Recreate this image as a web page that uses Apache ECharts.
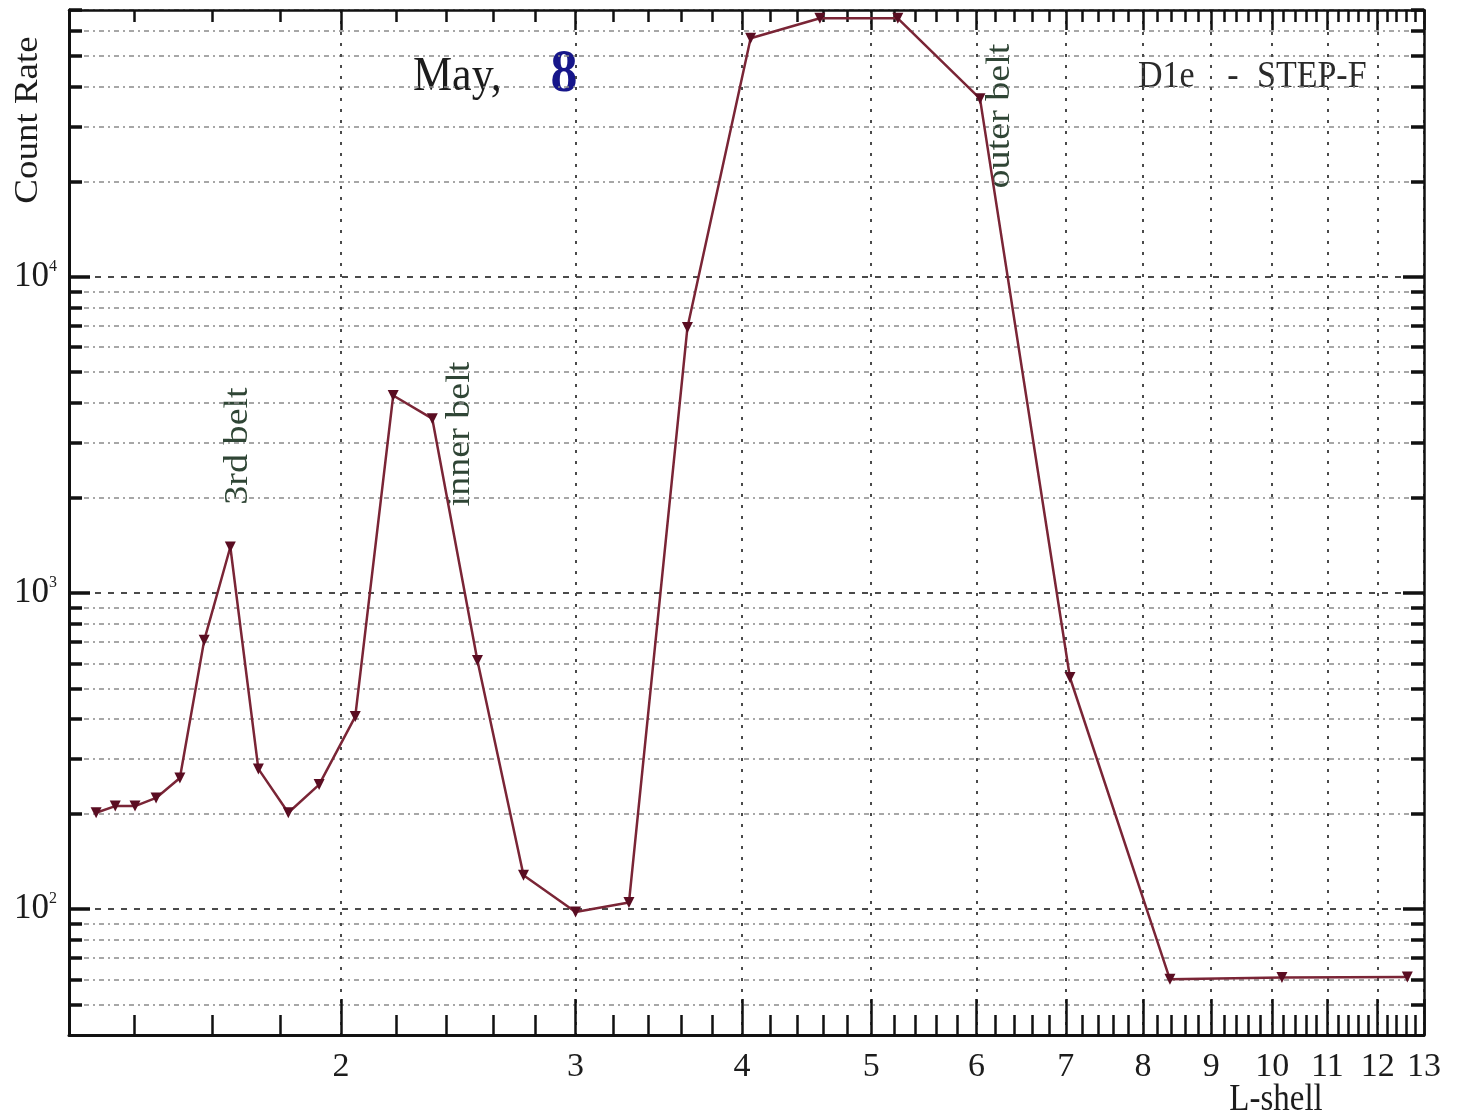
<!DOCTYPE html>
<html>
<head>
<meta charset="utf-8">
<script src="https://cdn.jsdelivr.net/npm/echarts@6/dist/echarts.min.js"></script>
<style>
  html, body { margin: 0; padding: 0; background: #fff; }
  #chart { width: 1457px; height: 1119px; }
</style>
</head>
<body>
<div id="chart"></div>
<script>
// L-shell profile, count rate
const lShell = [1.31, 1.354, 1.401, 1.453, 1.514, 1.579, 1.652, 1.734, 1.826, 1.926,
  2.05, 2.189, 2.342, 2.532, 2.742, 3.0, 3.29, 3.64, 4.06, 4.576,
  5.236, 6.035, 7.05, 8.38, 10.17, 12.63];
const countRate = [202, 212, 212, 225, 260, 709, 1400, 278, 202, 248,
  407, 4220, 3565, 612, 128, 98, 105, 6930, 57000, 65900,
  65900, 36700, 541, 60, 60.8, 61];

// axis ticks
const xMajorTicks = [2, 3, 4, 5, 6, 7, 8, 9, 10, 11, 12, 13];
const xMinorTicks = [1.4, 1.6, 1.8, 2.2, 2.4, 2.6, 2.8, 3.2, 3.4, 3.6, 3.8,
  4.2, 4.4, 4.6, 4.8, 5.2, 5.4, 5.6, 5.8, 6.2, 6.4, 6.6, 6.8,
  7.2, 7.4, 7.6, 7.8, 8.2, 8.4, 8.6, 8.8, 9.2, 9.4, 9.6, 9.8,
  10.2, 10.4, 10.6, 10.8, 11.2, 11.4, 11.6, 11.8, 12.2, 12.4, 12.6, 12.8];
const yMajorTicks = [100, 1000, 10000];
const yMinorTicks = [50, 60, 70, 80, 90, 200, 300, 400, 500, 600, 700, 800, 900,
  2000, 3000, 4000, 5000, 6000, 7000, 8000, 9000, 20000, 30000, 40000, 50000, 60000, 70000];

const X_MIN = 1.25, X_MAX = 13, Y_MIN = 40, Y_MAX = 70000;
const SERIF = '"Liberation Serif", "DejaVu Serif", serif';

function xAxisDef(pos, ticks, len, opts) {
  return Object.assign({
    type: 'log', logBase: 10, position: pos, min: X_MIN, max: X_MAX,
    axisLine: { show: false },
    axisTick: { show: true, inside: true, length: len, customValues: ticks,
      lineStyle: { color: '#111', width: 2.5 } },
    axisLabel: { show: false },
    splitLine: { show: false },
    minorTick: { show: false }
  }, opts || {});
}
function yAxisDef(pos, ticks, len, opts) {
  return Object.assign({
    type: 'log', logBase: 10, position: pos, min: Y_MIN, max: Y_MAX,
    axisLine: { show: false },
    axisTick: { show: true, inside: true, length: len, customValues: ticks,
      lineStyle: { color: '#111', width: 3.5 } },
    axisLabel: { show: false },
    splitLine: { show: false },
    minorTick: { show: false }
  }, opts || {});
}

// stretched serif text, like the scanned figure
function label(text, x, y, size, opts) {
  opts = opts || {};
  return {
    type: 'text', x: x, y: y, rotation: opts.rotation || 0,
    scaleX: opts.rotation ? 1.12 : 1, scaleY: opts.rotation ? 1 : 1.12,
    style: {
      text: text, font: (opts.weight || '') + ' ' + size + 'px ' + SERIF,
      fill: opts.color || '#1c1c1c', align: opts.align || 'center', verticalAlign: 'middle'
    }
  };
}

const chart = echarts.init(document.getElementById('chart'));

const option = {
  backgroundColor: '#fff',
  animation: false,
  grid: { left: 69, right: 33, top: 10, bottom: 84, containLabel: false, outerBoundsMode: 'none' },
  xAxis: [
    xAxisDef('bottom', xMajorTicks, 36, {
      axisLine: { show: true, lineStyle: { color: '#111', width: 3 } },
      axisLabel: { show: true, customValues: xMajorTicks, margin: 15,
        color: '#1c1c1c', fontFamily: SERIF, fontSize: 34 },
      splitLine: { show: true, lineStyle: { color: '#4a4a4a', width: 2, type: [3, 8] } }
    }),
    xAxisDef('bottom', xMinorTicks, 20),
    xAxisDef('top', xMajorTicks, 20, {
      axisLine: { show: true, lineStyle: { color: '#111', width: 2.5 } }
    }),
    xAxisDef('top', xMinorTicks, 12)
  ],
  yAxis: [
    yAxisDef('left', yMajorTicks, 21, {
      axisLine: { show: true, lineStyle: { color: '#111', width: 3 } },
      axisLabel: {
        show: true, customValues: yMajorTicks, margin: 12,
        formatter: v => '{b|10}{s|' + Math.round(Math.log10(v)) + '}',
        rich: {
          b: { fontFamily: SERIF, fontSize: 35, color: '#1c1c1c', lineHeight: 36 },
          s: { fontFamily: SERIF, fontSize: 16, color: '#1c1c1c', lineHeight: 36, verticalAlign: 'top' }
        }
      },
      splitLine: { show: true, lineStyle: { color: '#4a4a4a', width: 2, type: [6, 7] } }
    }),
    yAxisDef('left', yMinorTicks, 13, {
      splitLine: { show: true, lineStyle: { color: '#8a8a8a', width: 1.5, type: [5, 4, 2, 4] } }
    }),
    yAxisDef('right', yMajorTicks, 21, {
      axisLine: { show: true, lineStyle: { color: '#111', width: 2.5 } }
    }),
    yAxisDef('right', yMinorTicks, 13)
  ],
  series: [{
    type: 'line',
    xAxisIndex: 0,
    yAxisIndex: 0,
    data: lShell.map((x, i) => [x, countRate[i]]),
    lineStyle: { color: '#7a2536', width: 2.5 },
    symbol: 'triangle',
    symbolRotate: 180,
    symbolSize: 11,
    itemStyle: { color: '#5a0d22' },
    z: 5
  }],
  graphic: [
    label('Count Rate', 28, 120, 33, { rotation: Math.PI / 2 }),
    label('L-shell', 1276, 1100, 33),
    label('May,', 413, 77, 44, { align: 'left' }),
    label('8', 564, 75, 54, { weight: 'bold', color: '#16168a' }),
    label('D1e', 1138, 77, 34, { align: 'left', color: '#2a2a2a' }),
    label('-', 1233, 77, 34, { color: '#2a2a2a' }),
    label('STEP-F', 1257, 77, 34, { align: 'left', color: '#2a2a2a' }),
    label('3rd belt', 238, 446, 34, { rotation: Math.PI / 2, color: '#2f4535' }),
    label('inner belt', 460, 434, 34, { rotation: Math.PI / 2, color: '#2f4535' }),
    label('outer belt', 1000, 116, 34, { rotation: Math.PI / 2, color: '#2f4535' })
  ]
};

chart.setOption(option);
</script>
</body>
</html>
